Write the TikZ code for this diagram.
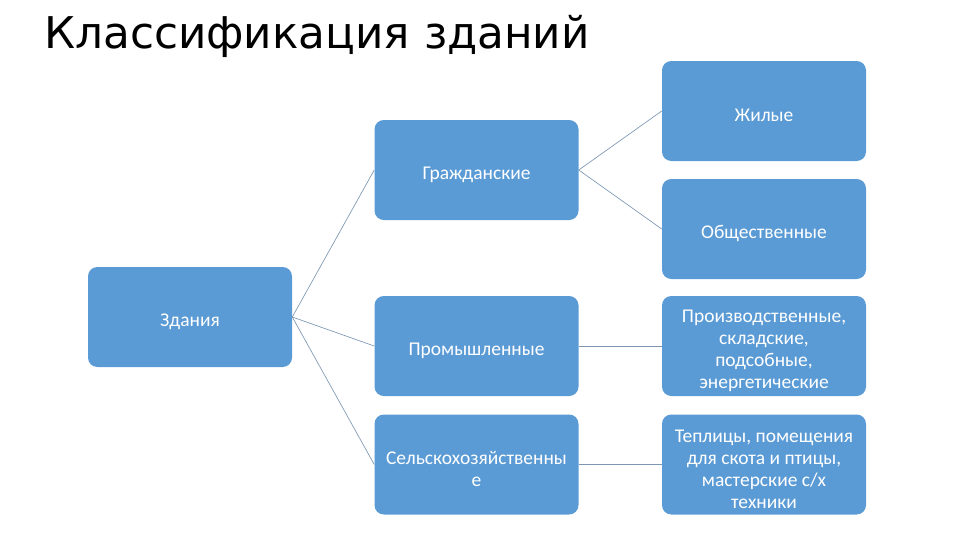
\documentclass[tikz,border=0pt]{standalone}
\usepackage{fontspec}
\setmainfont{Carlito}
\newfontfamily\titlefont{DejaVu Sans}
\usepackage{tikz}
\usetikzlibrary{calc}

\definecolor{boxblue}{HTML}{5B9BD5}
\definecolor{linkgray}{HTML}{7D97B3}
\newcommand{\toppad}{\rule{0pt}{17pt}}

\begin{document}
\begin{tikzpicture}[
    x=0.75pt, y=-0.75pt,
    box/.style={draw=none, fill=boxblue, rounded corners=7pt, text=white,
                minimum width=153pt, minimum height=75pt, inner sep=2pt,
                align=center, font=\fontsize{14.6}{16.6}\selectfont,
                execute at begin node={\rule{0pt}{16pt}}},
    link/.style={draw=linkgray, line width=0.5pt},
  ]
  \useasboundingbox (0,0) rectangle (960,540);

  \node[anchor=base west, inner sep=0pt, font=\titlefont\fontsize{32.8}{38}\selectfont]
    (title) at (44,48) {Классификация зданий};

  % first level
  \node[box] (zd) at (190,317) {Здания};

  % second level
  \node[box] (gr) at (476.5,170) {Гражданские};
  \node[box] (pr) at (476.5,346) {Промышленные};
  \node[box] (se) at (476.5,464.5) {\toppad Сельскохозяйственны\\е};

  % third level
  \node[box] (zh) at (764,111) {Жилые};
  \node[box] (ob) at (764,229) {Общественные};
  \node[box] (pro) at (764,346) {\toppad Производственные,\\складские,\\подсобные,\\энергетические};
  \node[box] (te) at (764,464.5) {\toppad Теплицы, помещения\\для скота и птицы,\\мастерские с/х\\техники};

  \draw[link] (zd.east) -- (gr.west);
  \draw[link] (zd.east) -- (pr.west);
  \draw[link] (zd.east) -- (se.west);
  \draw[link] (gr.east) -- (zh.west);
  \draw[link] (gr.east) -- (ob.west);
  \draw[link] (pr.east) -- (pro.west);
  \draw[link] (se.east) -- (te.west);
\end{tikzpicture}
\end{document}
